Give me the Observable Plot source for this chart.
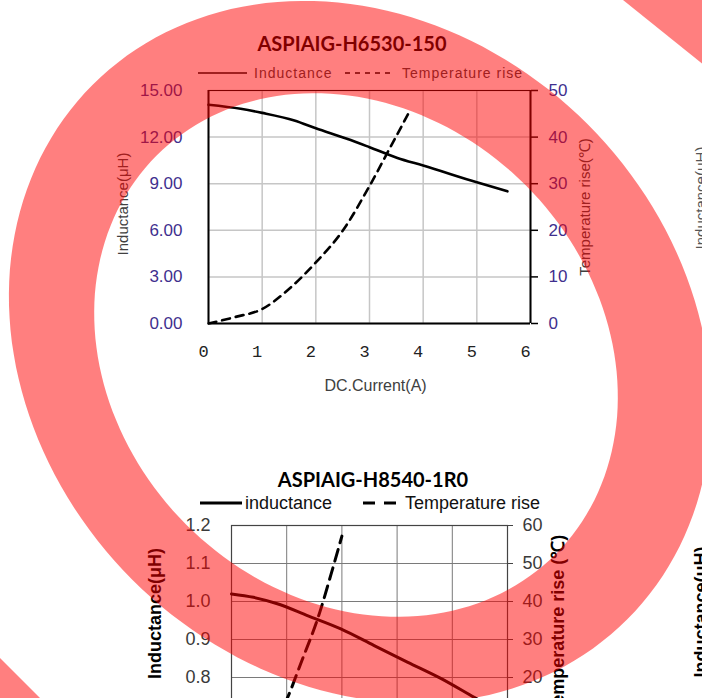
<!DOCTYPE html>
<html>
<head>
<meta charset="utf-8">
<script src="https://cdn.jsdelivr.net/npm/d3@7"></script>
<script src="https://cdn.jsdelivr.net/npm/@observablehq/plot@0.6"></script>
<style>
  body { margin: 0; background: #fff; }
  #page { position: relative; width: 702px; height: 698px; overflow: hidden; background: #fff; font-family: "Liberation Sans", Arial, sans-serif; }
  #page > * { position: absolute; left: 0; }
</style>
</head>
<body>
<div id="page"></div>
<script>
// ---------------- data: chart 1 (ASPIAIG-H6530-150) ----------------
const title1 = "ASPIAIG-H6530-150";
const legend1 = ["Inductance", "Temperature rise"];
const xLabel1 = "DC.Current(A)";
const yLabel1 = "Inductance(μH)";
const y2Label1 = "Temperature rise(℃)";
const xTicks1 = [0, 1, 2, 3, 4, 5, 6];
const yTicks1 = [0, 3, 6, 9, 12, 15];
const tTicks1 = [0, 10, 20, 30, 40, 50];
const indCurrent1 = [0, 0.6, 1.0, 1.6, 2.0, 2.58, 3.0, 3.52, 4.0, 5.0, 5.57];
const inductance1 = [14.08, 13.82, 13.56, 13.07, 12.57, 11.89, 11.35, 10.66, 10.17, 9.09, 8.51];
const tempCurrent1 = [0, 0.5, 1.0, 1.5, 2.0, 2.5, 3.0, 3.35, 3.75];
const tempRise1 = [0, 1.4, 3.1, 7.4, 13.1, 19.9, 29.5, 37.0, 45.6];

// ---------------- data: chart 2 (ASPIAIG-H8540-1R0), lower part cut off ----------------
const title2 = "ASPIAIG-H8540-1R0";
const legend2 = ["inductance", "Temperature rise"];
const yLabel2 = "Inductance(μH)";
const y2Label2 = "Temperature rise (℃)";
const xTicks2 = [0, 2, 4, 6, 8, 10];
const yGrid2 = [0.6, 0.7, 0.8, 0.9, 1.0, 1.1, 1.2];
const yTicks2 = [0.8, 0.9, 1.0, 1.1, 1.2];      // labels visible in the picture
const tTicks2 = [20, 30, 40, 50, 60];            // labels visible in the picture
const indCurrent2 = [0, 0.8, 1.66, 2.75, 3.96, 5.17, 6.39, 7.6, 8.81, 9.6];
const inductance2 = [1.020, 1.011, 0.994, 0.963, 0.928, 0.884, 0.840, 0.797, 0.747, 0.715];
const tempCurrent2 = [0, 1.0, 1.5, 2.0, 2.5, 3.2, 3.6, 4.0];
const tempRise2 = [0, 3, 7.5, 14.2, 23.5, 37.2, 47, 57.2];

// neighbouring chart's axis title, cut by the right edge
const sideLabel = "Inductance(μH)";

// ---------------- chart 1 ----------------
const k1 = 15 / 50; // temperature -> inductance axis
const ind1 = indCurrent1.map((x, i) => ({x, y: inductance1[i]}));
const tmp1 = tempCurrent1.map((x, i) => ({x, y: tempRise1[i] * k1}));
const tickColor1 = "#3f2f8e";

const plot1 = Plot.plot({
  width: 702, height: 400,
  marginLeft: 208, marginRight: 172, marginTop: 90, marginBottom: 77,
  style: {background: "transparent", fontFamily: "Liberation Sans, Arial, sans-serif", overflow: "visible"},
  x: {domain: [0, 6]},
  y: {domain: [0, 15]},
  marks: [
    Plot.gridX(xTicks1, {stroke: "#c6c6c6", strokeOpacity: 1, strokeWidth: 1.5}),
    Plot.gridY(yTicks1, {stroke: "#c6c6c6", strokeOpacity: 1, strokeWidth: 1.5}),
    Plot.ruleY([15], {stroke: "#000", strokeWidth: 1.2}),
    Plot.ruleX([0, 6], {stroke: "#000", strokeWidth: 2}),
    Plot.ruleY([0], {stroke: "#000", strokeWidth: 2}),
    Plot.axisX(xTicks1, {tickSize: 0, tickPadding: 21, dx: -5, fontSize: 17, fontFamily: "Liberation Mono, DejaVu Sans Mono, monospace", fill: "#222", label: null}),
    Plot.axisY(yTicks1, {anchor: "left", tickSize: 0, tickPadding: 26, tickFormat: d => d.toFixed(2), fontSize: 17, fill: tickColor1, label: null}),
    Plot.axisY(tTicks1.map(t => t * k1), {anchor: "right", tickSize: 7, tickPadding: 11, stroke: "#000", strokeWidth: 1.5, tickFormat: d => String(Math.round(d / k1)), fontSize: 17, fill: tickColor1, label: null}),
    Plot.line(ind1, {x: "x", y: "y", stroke: "#000", strokeWidth: 2.6, curve: "monotone-x"}),
    Plot.line(tmp1, {x: "x", y: "y", stroke: "#000", strokeWidth: 2.6, strokeDasharray: "8,6", curve: "monotone-x"}),
    Plot.text([yLabel1], {frameAnchor: "left", textAnchor: "middle", rotate: -90, dx: -85, dy: -3, fontSize: 15, fill: "#404040"}),
    Plot.text([y2Label1], {frameAnchor: "right", textAnchor: "middle", rotate: -90, dx: 55, fontSize: 15, fill: "#404040"}),
    Plot.text([xLabel1], {frameAnchor: "bottom", dy: 67, dx: 6, fontSize: 16, fill: "#404040"})
  ]
});
plot1.style.top = "0px";

// ---------------- chart 2 ----------------
const ind2 = indCurrent2.map((x, i) => ({x, y: inductance2[i]}));
const tmp2 = tempCurrent2.map((x, i) => ({x, y: 0.6 + tempRise2[i] / 100}));
const tickColor2 = "#3a3a3a";

const plot2 = Plot.plot({
  width: 702, height: 400,
  marginLeft: 231, marginRight: 195, marginTop: 85, marginBottom: 87,
  style: {background: "transparent", fontFamily: "Liberation Sans, Arial, sans-serif", overflow: "visible"},
  x: {domain: [0, 10], axis: null},
  y: {domain: [0.6, 1.2]},
  marks: [
    Plot.gridX(xTicks2, {stroke: "#7a7a7a", strokeOpacity: 1, strokeWidth: 1}),
    Plot.gridY(yGrid2, {stroke: "#7a7a7a", strokeOpacity: 1, strokeWidth: 1}),
    Plot.frame({stroke: "#444", strokeWidth: 1.2}),
    Plot.axisY(yTicks2, {anchor: "left", tickSize: 0, tickPadding: 21, tickFormat: d => d.toFixed(1), fontSize: 18, fill: tickColor2, label: null}),
    Plot.axisY(tTicks2.map(t => 0.6 + t / 100), {anchor: "right", tickSize: 5, tickPadding: 10, stroke: "#444", tickFormat: d => String(Math.round((d - 0.6) * 100)), fontSize: 18, fill: tickColor2, label: null}),
    Plot.line(ind2, {x: "x", y: "y", stroke: "#000", strokeWidth: 3, curve: "monotone-x"}),
    Plot.line(tmp2, {x: "x", y: "y", stroke: "#000", strokeWidth: 3, strokeDasharray: "12,7", curve: "monotone-x"}),
    Plot.text([yLabel2], {frameAnchor: "left", textAnchor: "middle", rotate: -90, dx: -76, dy: -26, fontSize: 18, fontWeight: "bold", fill: "#000"}),
    Plot.text([y2Label2], {frameAnchor: "right", textAnchor: "middle", rotate: -90, dx: 51, dy: -15, fontSize: 18, fontWeight: "bold", fill: "#000"})
  ]
});
plot2.style.top = "440px";

const page = document.getElementById("page");
page.appendChild(plot1);
page.appendChild(plot2);

// ---------------- titles, legends, side labels ----------------
const ann = d3.select(page).append("svg")
  .attr("width", 702).attr("height", 698).style("top", "0px")
  .style("font-family", "Liberation Sans, Arial, sans-serif");

function title(text, cx, baseline) {
  ann.append("text").attr("x", cx).attr("y", baseline).attr("text-anchor", "middle")
    .style("font-family", "Lato, 'Open Sans', sans-serif").style("font-weight", "bold").style("font-size", "20px")
    .attr("fill", "#000").text(text);
}
function legend(labels, cfg) {
  const g = ann.append("g");
  g.append("line").attr("x1", cfg.l1[0]).attr("x2", cfg.l1[1]).attr("y1", cfg.y).attr("y2", cfg.y)
    .attr("stroke", "#000").attr("stroke-width", cfg.sw);
  g.append("text").attr("x", cfg.t1).attr("y", cfg.y).attr("dy", "0.36em").attr("fill", cfg.color)
    .style("font-size", cfg.fs + "px").style("letter-spacing", cfg.ls + "px").text(labels[0]);
  g.append("line").attr("x1", cfg.l2[0]).attr("x2", cfg.l2[1]).attr("y1", cfg.y).attr("y2", cfg.y)
    .attr("stroke", "#000").attr("stroke-width", cfg.sw).attr("stroke-dasharray", cfg.dash);
  g.append("text").attr("x", cfg.t2).attr("y", cfg.y).attr("dy", "0.36em").attr("fill", cfg.color)
    .style("font-size", cfg.fs + "px").style("letter-spacing", cfg.ls + "px").text(labels[1]);
}
title(title1, 352, 51);
legend(legend1, {y: 73, l1: [198, 247], t1: 254, l2: [345, 392], t2: 402, sw: 1.5, dash: "5,5", color: "#404040", fs: 14, ls: 1});
title(title2, 373, 487);
legend(legend2, {y: 503, l1: [200, 242], t1: 245, l2: [363, 397], t2: 405, sw: 3, dash: "12,9", color: "#111", fs: 18, ls: 0});

ann.append("text").attr("transform", "translate(706,198) rotate(-90)").attr("text-anchor", "middle")
  .style("font-size", "15px").attr("fill", "#555").text(sideLabel);
ann.append("text").attr("transform", "translate(707,612) rotate(-90)").attr("text-anchor", "middle")
  .style("font-size", "18px").style("font-weight", "bold").attr("fill", "#000").text(sideLabel);

// ---------------- translucent red annotation ring on top ----------------
function ellipse(cx, cy, a, b, deg) {
  const r = deg * Math.PI / 180;
  const pts = d3.range(0, 360, 2).map(t => {
    const th = t * Math.PI / 180, u = a * Math.cos(th), v = b * Math.sin(th);
    return [cx + u * Math.cos(r) - v * Math.sin(r), cy + u * Math.sin(r) + v * Math.cos(r)];
  });
  return "M" + pts.map(p => p.map(n => n.toFixed(1)).join(",")).join("L") + "Z";
}
const ov = d3.select(page).append("svg")
  .attr("width", 702).attr("height", 698).style("top", "0px").style("pointer-events", "none");
const red = "rgba(255,0,0,0.5)";
ov.append("path").attr("fill", red).attr("fill-rule", "evenodd")
  .attr("d", ellipse(360, 352, 378, 322, 45) + ellipse(356, 355, 282, 240, 45));
ov.append("path").attr("fill", red).attr("d", "M623,0L760,0L760,110Z");
ov.append("path").attr("fill", red).attr("d", "M-60,598L100,758L-60,758Z");
</script>
</body>
</html>
